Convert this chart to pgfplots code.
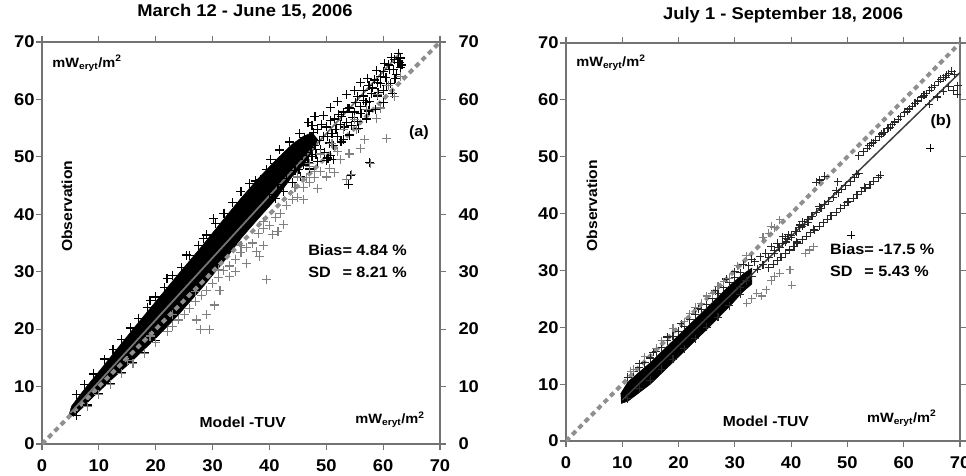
\documentclass[border=0pt]{standalone}
\usepackage{pgfplots}
\pgfplotsset{compat=1.18}
\usepackage{fontspec}
\setmainfont{Liberation Sans}[FakeStretch=1.08]
\definecolor{framegray}{gray}{0.45}
\definecolor{dashgray}{gray}{0.56}
\definecolor{ptgray}{gray}{0.5}
\definecolor{linegray}{gray}{0.45}
\newcommand{\tickfont}{\fontsize{17}{20}\selectfont\bfseries}
\newcommand{\titlefont}{\fontsize{17}{20}\selectfont\bfseries}
\newcommand{\labfont}{\fontsize{14.5}{18}\selectfont\bfseries}
\newcommand{\unitfont}{\fontsize{13.5}{16}\selectfont\bfseries}
\newcommand{\statfont}{\fontsize{15}{22}\selectfont\bfseries}
\pgfplotsset{
  panel/.style={
    scale only axis,
    xmin=0, xmax=70, ymin=0, ymax=70,
    xtick={0,10,...,70}, ytick={0,10,...,70},
    tick align=outside, major tick length=6pt,
    axis line style={framegray, line width=1.3pt},
    tick style={framegray, line width=1.2pt},
    tick label style={font=\tickfont},
    /pgf/number format/assume math mode=true,
    xticklabel style={yshift=-6pt},
    yticklabel style={xshift=2pt},
  },
  blk/.style={only marks, mark=+, mark size=4.5pt, black, mark options={line width=1.2pt}},
  gry/.style={only marks, mark=+, mark size=4.5pt, ptgray, mark options={line width=1.1pt}},
  dkr/.style={only marks, mark=+, mark size=4pt, black!85, mark options={line width=1.1pt}},
  dsh/.style={dashgray, line width=4pt, dash pattern=on 5pt off 4pt},
}
\begin{document}
\begin{tikzpicture}
\useasboundingbox (0pt,0pt) rectangle (966pt,475pt);
% ---------------- left panel ----------------
\begin{axis}[panel, at={(42pt,31pt)}, anchor=south west, width=398pt, height=402pt,
  title={March 12 - June 15, 2006},
  title style={at={(0.51,1)}, anchor=center, yshift=24pt, font=\titlefont}]
% dense core
\addplot[fill=black, draw=black, line width=0.5pt] coordinates {
(4.8,5.2) (5.2,6.6) (6.5,8.3) (8,10.2) (10,12.6) (13,16.3) (16,20.0) (20,24.8) (24,29.6) (28,34.3) (32,39.2) (35,42.8) (38,46.2) (41,49.3) (44,52.2) (46,53.6) (47.5,54.2) (48.5,53.0)
(47.5,50.8) (46,48.6) (44,46.6) (41,42.5) (38,39.2) (35,35.8) (32,31.8) (28,27.0) (24,22.5) (20,18.4) (16,14.6) (12,11.0) (9,8.2) (7,6.2) (5.5,4.8)};
% black crosses: edge of core
\addplot[blk] coordinates {
(6,8.6) (7.5,10.4) (9,12.2) (11,14.8) (12.5,16.5) (14,18.2) (15.5,20.2) (17,21.8) (18.5,23.8) (20,25.6) (21.5,27.2) (23,29.4) (24.5,30.8) (26,32.8) (27.5,34.6) (29,36.4) (30.5,38.4) (32,40.2) (33.5,42.0) (35,43.9) (36.5,45.3) (30.1,39.3) (28.4,35.8) (25.4,32.9) (22,28.8) (19,25.0)
(6,5.0) (8,6.8) (10,8.8) (12,10.5) (14,12.4) (16,14.2) (18,16.0) (20,18.0)};
% black crosses: upper part
\addplot[blk] coordinates {
(38.5,46.0) (39,44.5) (39.5,47.8) (40,43.5) (40.5,46.5) (41,48.9) (41,42.8) (41.5,45.2) (42,47.5) (42.5,49.8) (42.5,44.0) (43,46.2) (43.5,48.4) (44,50.9) (44,45.5) (44.5,47.6) (45,49.6) (45.5,52.0) (45.5,46.5) (46,48.6) (46.5,50.8) (47,53.5) (47,47.9) (47.5,50.0) (48,52.0) (48.5,54.8) (48.5,49.2) (49,51.3) (49.5,53.6) (50,49.3) (50.3,49.8) (50.8,50.2) (51.2,49.5) (50,55.2) (50.5,52.4) (51,54.0) (51.5,56.6) (52,53.5) (52.5,55.6) (53,57.8) (53,53.0) (53.5,56.0) (54,58.5) (54.5,55.5) (55,57.8) (55.5,60.5) (55.5,56.2) (56,58.8) (56.5,61.6) (57,59.5) (57.5,62.4) (57.5,58.0) (58,61.0) (58.5,63.4) (59,60.6) (59.5,62.8) (60,64.9) (60,61.5) (60.5,63.8) (61,66.0) (61.3,62.8) (61.8,65.2) (62,67.0) (62.3,64.4) (62.8,66.4) (63,65.5) (59,63.0) (56.5,59.8) (52.7,57.0) (46.3,51.9) (43.2,50.6) (37.5,45.8)
(57.6,49.0) (53.9,45.2) (54.3,46.8)
(44.2,49.5) (44.8,52.0) (45.2,47.8) (45.8,50.2) (46.2,53.4) (46.8,49.0) (47.3,51.6) (47.8,54.2) (48.2,50.4) (48.8,52.9) (49.2,55.6) (49.7,50.8) (50.2,53.6) (50.7,56.4) (51.2,52.0) (51.7,54.8) (52.2,57.4) (52.6,52.6) (53.2,55.2) (53.7,58.4) (54.1,53.8) (54.6,56.8) (55.1,59.4) (55.6,55.0) (56.1,57.6) (56.6,60.6) (57.1,56.6) (57.6,59.6) (58.1,62.0) (58.6,58.2) (59.1,61.2) (59.6,64.0) (60.1,59.4) (60.6,62.4) (61.1,65.2) (61.6,61.0) (62.1,63.6) (62.6,66.4) (63.1,67.2) (63.3,66.0) (62.7,68.0) (61.5,67.3) (60.3,66.3) (58.9,65.0) (57.2,63.6) (55.0,61.6) (52.0,59.6) (49.5,57.2) (47.5,55.4) (45.3,54.0) (43.6,52.6) (41.8,51.2) (40.2,49.6) (48.0,57.0) (50.8,58.6) (46.8,56.0) (53.5,60.8) (56.0,63.0)};
% gray crosses: along lower edge and near the 1:1 line
\addplot[gry] coordinates {
(8,6.6) (10,8.6) (12,10.3) (14,12.2) (16,14.0) (18,15.8) (20,17.6) (22,19.6) (23,20.5) (24,21.6) (25,22.6) (26,23.6) (27,24.8) (28,25.8) (29,26.8) (30,28.0) (31,29.0) (32,30.2) (33,31.0) (34,32.2) (35,33.4) (36,34.2) (37,35.0) (38,36.6) (39,37.5) (40,38.0) (41,39.5) (42,40.2) (43,41.6) (44,42.5) (45,43.0) (46,44.6) (47,45.5) (48,46.4)
(15,14.5) (19,18.8) (23,22.6) (27,26.5) (31,30.3) (35,34.5) (39,38.8) (44.5,44.6) (46.5,46.4)
(45,46.5) (47,48.8) (49,50.5) (51,52.3) (53,54.8) (55,56.5) (57,58.2) (59,60.8) (61,62.5) (47.1,48.3) (55.3,54.7) (60.6,53.2) (57.7,48.8) (53.6,46.0) (54.5,47.0) (56,51.5) (58.9,56.7) (52,51.0) (50,46.5) (48.5,44.5) (46,42.5) (49,47.5) (52.5,49.5) (54,50.5) (56.8,53.0) (59.5,58.5) (62,60.5) (63,64.0) (50.5,48.0) (51.5,47.2) (48,47.5)
(39.5,28.6) (27.8,19.9) (29.5,19.9) (27.2,21.6) (29.0,22.5) (30.4,24.2) (31.3,26.8) (38.3,32.6) (37.8,33.5) (36,31.5) (34,30.0) (33,29.2) (40.5,36.5) (41.5,37.0) (39,34.5) (42.5,38.2)};
% 1:1 line
\addplot[dsh] coordinates {(0,0) (70,70)};
% regression line
\addplot[linegray, line width=1.8pt] coordinates {(5,5.4) (63,68.1)};
\node[font=\unitfont, anchor=west] at (axis cs:1.2,66.3) {mW\textsubscript{eryt}/m\textsuperscript{2}};
\node[font=\unitfont, anchor=east] at (axis cs:67.9,4.2) {mW\textsubscript{eryt}/m\textsuperscript{2}};
\node[font=\statfont] at (axis cs:66.3,54.2) {(a)};
\node[font=\statfont, anchor=west, inner sep=0pt] at (axis cs:46.8,31.7) {\begin{tabular}{@{}l@{}l@{}}Bias&= 4.84 \%\\SD&= 8.21 \%\end{tabular}};
\node[font=\labfont, rotate=90] at (axis cs:4.4,41.4) {Observation};
\node[font=\labfont] at (axis cs:35.3,3.7) {Model -TUV};
\end{axis}
% right-hand tick labels of the left panel
\begin{axis}[panel, at={(42pt,31pt)}, anchor=south west, width=398pt, height=402pt,
  axis x line=none, axis y line*=right, yticklabel style={xshift=7pt}]
\addplot[draw=none] coordinates {(0,0)};
\end{axis}
% ---------------- right panel ----------------
\begin{axis}[panel, at={(566pt,34pt)}, anchor=south west, width=394pt, height=398pt,
  title={July 1 - September 18, 2006},
  title style={at={(0.551,1)}, anchor=center, yshift=22pt, font=\titlefont}]
\addplot[fill=black, draw=black, line width=0.5pt] coordinates {
(9.7,8.3) (11,10.4) (15,13.8) (20,18.6) (25,23.4) (29,27.3) (31.5,29.4) (33,30.4)
(33,27.6) (31.5,26.3) (29,23.6) (25,19.6) (20,14.8) (15,10.0) (11,7.0) (9.8,6.6)};
% fuzzy band edges and its continuation
\addplot[dkr] coordinates {
(11,11.2) (13,12.9) (15,14.6) (17,16.4) (19,18.4) (21,20.2) (23,22.2) (25,24.0) (27,26.0) (29,27.8) (31,29.6) (12,12.2) (14,13.8) (16,15.7) (18,17.6) (20,19.3) (22,21.3) (24,23.2) (26,25.0) (28,27.0) (30,28.7)
(11,7.4) (13,9.2) (15,10.7) (17,12.6) (19,14.4) (21,16.2) (23,18.0) (25,20.0) (27,21.8) (29,23.8) (31,25.8)
(31,27.0) (32,28.2) (33,29.0) (34,30.2) (35,31.0) (36,32.2) (37,33.0) (38,34.0) (39,35.0) (40,35.8) (41,36.8) (42,37.8) (33.5,31.5) (35.5,33.0) (37.5,34.8) (39.5,36.3) (41.5,38.0) (43,38.5) (32.5,30.8) (34.5,32.4) (36.5,34.2) (38.5,35.9)
(13,13.6) (15.5,15.6) (18,18.3) (20.5,20.6) (23.5,23.3) (26.5,26.4) (28.5,28.5) (30,29.8) (31.5,31.0) (33,32.0)};
% streaks
\addplot[dkr] coordinates {
(37,33.5) (38.5,34.8) (40,36.2) (41.5,37.5) (43,38.9) (44.5,40.2) (46,41.6) (47.5,42.9) (49,44.3) (50.5,45.6) (52,47.0) (39,35.6) (42,38.6) (45,41.2) (48,44.0)
(37.8,34.1) (39.4,35.5) (40.8,36.9) (42.3,38.1) (43.7,39.5) (45.3,40.9) (46.7,42.2) (48.4,43.7) (49.7,44.9) (51.2,46.3) (51.6,46.9)
(36,30.5) (37.5,31.7) (39,32.9) (40.5,34.2) (42,35.4) (43.5,36.6) (45,37.8) (46.5,39.0) (48,40.2) (49.5,41.5) (51,42.7) (52.5,43.9) (54,45.1) (55.5,46.3) (55.8,46.7) (41,35.0) (44,37.2) (47,39.6) (50,42.0) (53,44.6)
(36.8,31.1) (38.2,32.3) (39.7,33.6) (41.2,34.8) (42.7,36.0) (44.2,37.1) (45.7,38.4) (47.2,39.6) (48.7,40.9) (50.2,42.1) (51.7,43.3) (53.2,44.5) (54.7,45.7)
(52,50.2) (53.5,51.5) (55,52.9) (56.5,54.3) (58,55.6) (59.5,57.0) (61,58.4) (62.5,59.8) (64,61.1) (65.5,62.5) (67,63.9) (68.5,65.0) (54.2,52.4) (57.2,55.0) (60.2,57.8) (63.2,60.5) (66.2,63.3) (69,64.5)
(52.8,50.9) (53.9,51.9) (54.6,52.5) (55.7,53.6) (56.1,54.0) (57.6,55.2) (58.4,56.1) (59.0,56.6) (60.6,58.0) (61.5,58.9) (62.0,59.4) (63.6,60.8) (64.6,61.7) (65.0,62.1) (66.6,63.6) (67.6,64.3) (68.0,64.6)
(68.8,61.7) (69.5,61.0) (68,62.3) (67,61.5) (69.6,62.5) (66,60.5) (64.5,59.2) (67.5,64.0)
(44.5,45.5) (45.1,45.9) (46,46.6) (48.3,45.6)};
% gray crosses
\addplot[gry, mark size=4pt] coordinates {
(11.5,12.3) (12,12.6) (14,14.8) (16,16.3) (17,17.6) (19,19.8) (21,21.0) (22,22.4) (23,23.5) (24,24.2) (25,25.5) (26,25.9) (27,27.2) (28,28.0) (29,28.6)
(32.1,24.2) (33.9,26.0) (35.6,26.6) (34.8,25.5) (33,25.0) (39.8,30.1) (40.1,27.4) (43.3,33.6) (44,34.2) (42.5,33.0) (36.5,28.2) (38,29.5) (37,29.0)
(36,36.5) (37,37.5) (38,38.9) (36.5,37.8) (35,35.8) (32,32.6) (30.5,30.8)};
\addplot[only marks, mark=+, mark size=4pt, black, mark options={line width=0.8pt}] coordinates {(64.7,51.5) (50.7,36.2)};
\addplot[dsh] coordinates {(0,0) (70,70)};
\addplot[black!75, line width=1.5pt] coordinates {(10,7.2) (70,64.8)};
\node[font=\unitfont, anchor=west] at (axis cs:1.2,66.5) {mW\textsubscript{eryt}/m\textsuperscript{2}};
\node[font=\unitfont, anchor=east] at (axis cs:66.4,4.0) {mW\textsubscript{eryt}/m\textsuperscript{2}};
\node[font=\statfont] at (axis cs:66.6,56.1) {(b)};
\node[font=\statfont, anchor=west, inner sep=0pt] at (axis cs:46.9,31.6) {\begin{tabular}{@{}l@{}l@{}}Bias&= -17.5 \%\\SD&= 5.43 \%\end{tabular}};
\node[font=\labfont, rotate=90] at (axis cs:4.6,41.4) {Observation};
\node[font=\labfont] at (axis cs:35.5,3.5) {Model -TUV};
\end{axis}
\end{tikzpicture}
\end{document}
